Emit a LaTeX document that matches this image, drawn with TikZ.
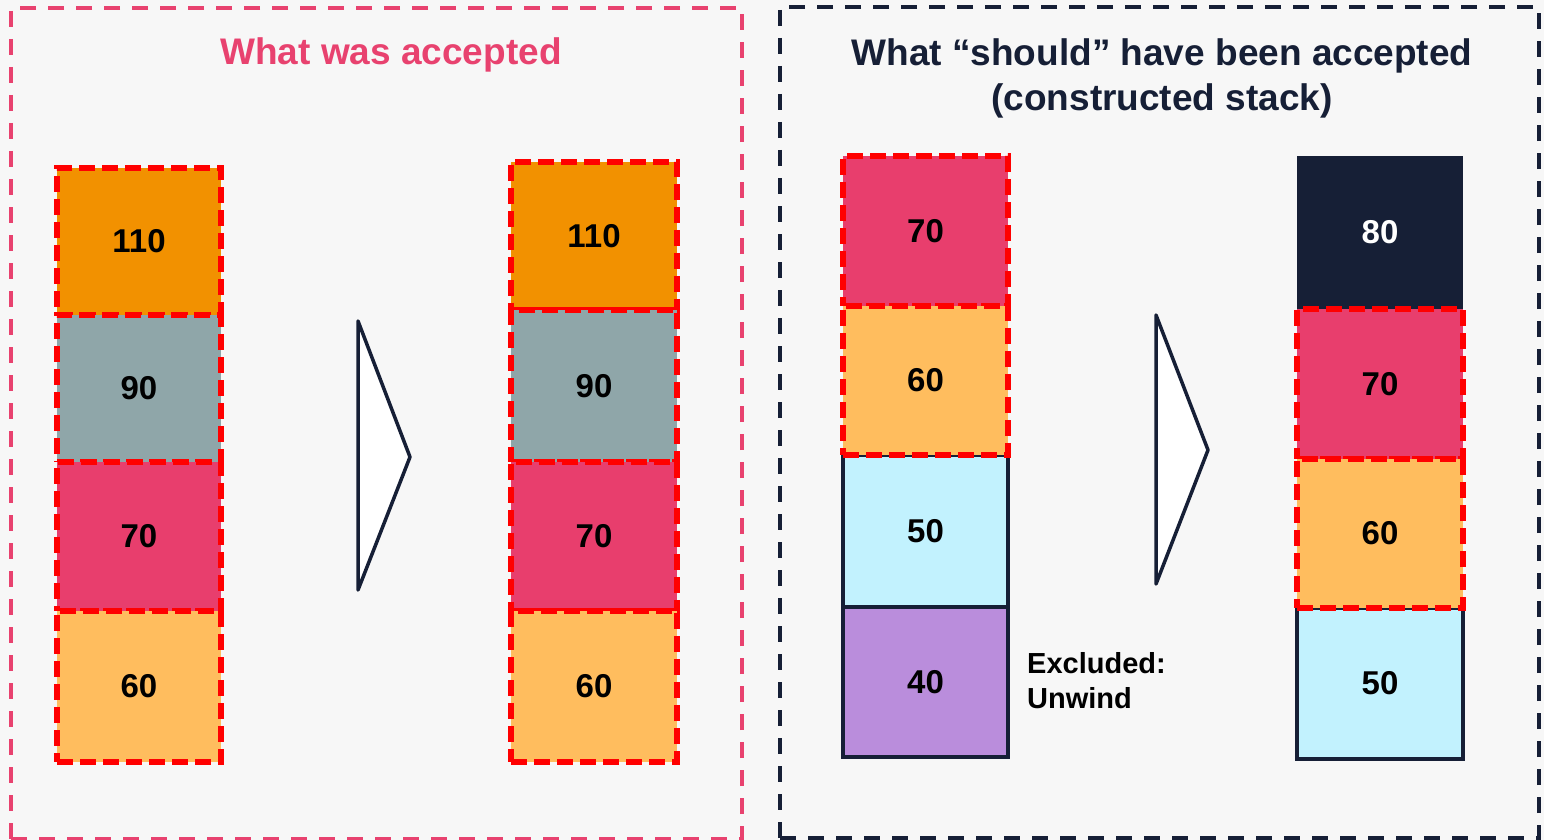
\documentclass[tikz,border=0pt]{standalone}
\usepackage{fontspec}
\setmainfont{Liberation Sans}
\definecolor{bgc}{HTML}{F7F7F7}
\definecolor{pinkt}{HTML}{E8426F}
\definecolor{navy}{HTML}{161F36}
\definecolor{orangec}{HTML}{F29100}
\definecolor{grayc}{HTML}{8FA6A9}
\definecolor{pinkc}{HTML}{E83E6D}
\definecolor{lorange}{HTML}{FFBD5E}
\definecolor{cyanc}{HTML}{C2F2FE}
\definecolor{purplec}{HTML}{BA8DDC}
\definecolor{redc}{HTML}{FF0000}
\tikzset{
  cell/.style={rectangle, inner sep=0pt, outer sep=0pt, anchor=north west, text=black,
    font=\bfseries\fontsize{33}{33}\selectfont},
  reddash/.style={draw=redc, line width=5.5pt, dash pattern=on 16pt off 7pt},
  navyline/.style={draw=navy, line width=4pt},
  panel/.style={rectangle, inner sep=0pt, outer sep=0pt, anchor=north west, line width=3.5pt, dash pattern=on 16pt off 12pt},
  title/.style={font=\bfseries\fontsize{37}{45}\selectfont, align=center},
  tri/.style={draw=navy, fill=white, line width=3.5pt, line join=round},
}
\begin{document}
\begin{tikzpicture}[x=1pt,y=-1pt]
\fill[bgc] (0,0) rectangle (1544,840);
\useasboundingbox (0,0) rectangle (1544,840);

% panels
\node[panel, draw=pinkt, minimum width=731pt, minimum height=831pt] (pl) at (11,8) {};
\node[panel, draw=navy, minimum width=759pt, minimum height=831pt] (pr) at (780,7) {};

% titles
\node[title, text=pinkt] (tl) at (391,55) {What was accepted};
\node[title, text=navy] (tr) at (1162,78) {What “should” have been accepted\\(constructed stack)};

% left stack 1
\node[cell, fill=orangec, reddash, minimum width=164pt, minimum height=147pt] (a1) at (57,168) {110};
\node[cell, fill=grayc, reddash, minimum width=164pt, minimum height=147pt] (a2) at (57,315) {90};
\node[cell, fill=pinkc, reddash, minimum width=164pt, minimum height=149pt] (a3) at (57,462) {70};
\node[cell, fill=lorange, reddash, minimum width=164pt, minimum height=151pt] (a4) at (57,611) {60};

% left stack 2
\node[cell, fill=orangec, reddash, minimum width=166pt, minimum height=148pt] (b1) at (511,162) {110};
\node[cell, fill=grayc, reddash, minimum width=166pt, minimum height=152pt] (b2) at (511,310) {90};
\node[cell, fill=pinkc, reddash, minimum width=166pt, minimum height=149pt] (b3) at (511,462) {70};
\node[cell, fill=lorange, reddash, minimum width=166pt, minimum height=151pt] (b4) at (511,611) {60};

% right stack 1
\node[cell, fill=cyanc, navyline, minimum width=165pt, minimum height=152pt] (c3) at (843,455) {50};
\node[cell, fill=purplec, navyline, minimum width=165pt, minimum height=150pt] (c4) at (843,607) {40};
\node[cell, fill=pinkc, reddash, minimum width=165pt, minimum height=150pt] (c1) at (843,156) {70};
\node[cell, fill=lorange, reddash, minimum width=165pt, minimum height=149pt] (c2) at (843,306) {60};

% right stack 2
\node[cell, fill=navy, text=white, minimum width=166pt, minimum height=153pt] (d1) at (1297,156) {80};
\node[cell, fill=cyanc, navyline, minimum width=166pt, minimum height=151pt] (d4) at (1297,608) {50};
\node[cell, fill=pinkc, reddash, minimum width=166pt, minimum height=150pt] (d2) at (1297,309) {70};
\node[cell, fill=lorange, reddash, minimum width=166pt, minimum height=149pt] (d3) at (1297,459) {60};

% excluded label
\node[anchor=north west, inner sep=0pt, align=left, font=\bfseries\fontsize{29}{35}\selectfont] (ex) at (1027,652) {Excluded:\\Unwind};

% triangles
\draw[tri] (358,321) -- (410,457) -- (358,590) -- cycle;
\draw[tri] (1156,315) -- (1208,450) -- (1156,584) -- cycle;
\end{tikzpicture}
\end{document}
